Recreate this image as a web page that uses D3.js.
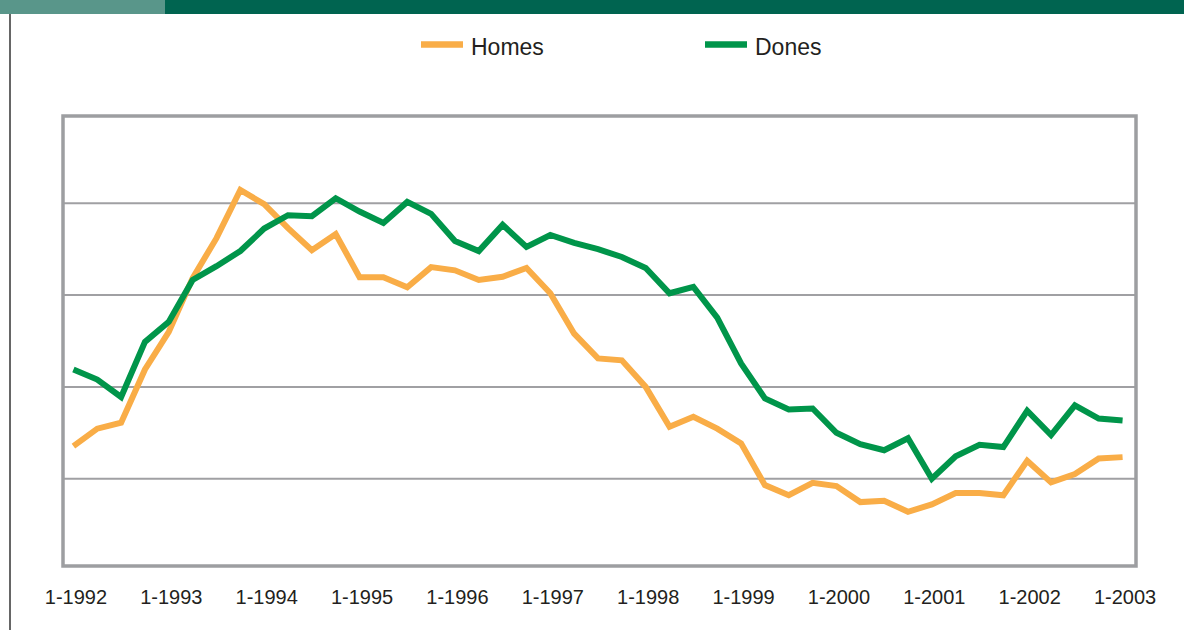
<!DOCTYPE html>
<html>
<head>
<meta charset="utf-8">
<script src="https://cdn.jsdelivr.net/npm/d3@7"></script>
<style>
  html, body { margin: 0; padding: 0; background: #fff; }
  svg { display: block; font-family: Arial, "Liberation Sans", sans-serif; }
</style>
</head>
<body>
<div id="chart"></div>
<script>
// quarterly categories (month-year)
const quarters = [
  "1-1992","4-1992","7-1992","10-1992",
  "1-1993","4-1993","7-1993","10-1993",
  "1-1994","4-1994","7-1994","10-1994",
  "1-1995","4-1995","7-1995","10-1995",
  "1-1996","4-1996","7-1996","10-1996",
  "1-1997","4-1997","7-1997","10-1997",
  "1-1998","4-1998","7-1998","10-1998",
  "1-1999","4-1999","7-1999","10-1999",
  "1-2000","4-2000","7-2000","10-2000",
  "1-2001","4-2001","7-2001","10-2001",
  "1-2002","4-2002","7-2002","10-2002",
  "1-2003"
];

const tickLabels = ["1-1992","1-1993","1-1994","1-1995","1-1996","1-1997",
  "1-1998","1-1999","1-2000","1-2001","1-2002","1-2003"];

const homes = [
  27.1, 30.9, 32.2, 43.8, 52.0, 63.7, 72.4, 82.9, 79.8, 74.6, 69.8, 73.3,
  63.9, 63.9, 61.7, 66.1, 65.4, 63.3, 64.0, 65.9, 60.4, 51.6, 46.2, 45.8,
  40.0, 31.3, 33.5, 30.9, 27.7, 18.6, 16.4, 19.1, 18.4, 14.9, 15.2, 12.8,
  14.4, 16.9, 16.9, 16.4, 23.9, 19.2, 21.0, 24.4, 24.7
];

const dones = [
  43.8, 41.6, 37.8, 49.8, 54.2, 63.3, 66.3, 69.6, 74.5, 77.4, 77.2, 81.1,
  78.2, 75.7, 80.3, 77.7, 71.8, 69.6, 75.3, 70.5, 73.1, 71.4, 70.0, 68.3,
  65.9, 60.4, 61.8, 55.1, 45.1, 37.5, 35.1, 35.3, 30.0, 27.5, 26.2, 28.8,
  20.0, 24.9, 27.4, 26.9, 34.8, 29.5, 36.0, 33.1, 32.7
];

const gridValues = [20, 40, 60, 80];

const seriesNames = ["Homes", "Dones"];
const seriesColors = ["#f9ad47", "#00954a"];

(function () {
  const svgWidth = 1184, svgHeight = 630;
  const margin = { top: 116, right: 48, bottom: 64, left: 63 };
  const width = svgWidth - margin.left - margin.right;   // 1073
  const height = svgHeight - margin.top - margin.bottom; // 450

  const svg = d3.select("#chart").append("svg")
    .attr("width", svgWidth)
    .attr("height", svgHeight);

  // top banner
  svg.append("rect").attr("x", 0).attr("y", 0)
    .attr("width", svgWidth).attr("height", 14).attr("fill", "#006450");
  svg.append("rect").attr("x", 0).attr("y", 0)
    .attr("width", 165).attr("height", 14).attr("fill", "#59968a");

  // left rule
  svg.append("line")
    .attr("x1", 10).attr("x2", 10).attr("y1", 14).attr("y2", svgHeight)
    .attr("stroke", "#333").attr("stroke-width", 1.5);

  const g = svg.append("g")
    .attr("transform", `translate(${margin.left},${margin.top})`);

  const x = d3.scalePoint()
    .domain(quarters)
    .range([-1.5, width - 1.5])
    .padding(0.5);

  // excel insets the value range a little inside the frame
  const y = d3.scaleLinear()
    .domain([0, 100])
    .range([height + 4.5, -4.5]);

  // gridlines
  g.selectAll(".grid")
    .data(gridValues)
    .enter().append("line")
    .attr("class", "grid")
    .attr("x1", 0).attr("x2", width)
    .attr("y1", d => y(d)).attr("y2", d => y(d))
    .attr("stroke", "#a0a0a3").attr("stroke-width", 2);

  // lines
  const line = d3.line()
    .x((d, i) => x(quarters[i]))
    .y(d => y(d));

  [homes, dones].forEach((vals, k) => {
    g.append("path")
      .datum(vals)
      .attr("d", line)
      .attr("fill", "none")
      .attr("stroke", seriesColors[k])
      .attr("stroke-width", 6)
      .attr("stroke-linejoin", "miter");
  });

  // frame
  g.append("rect")
    .attr("x", 0).attr("y", 0)
    .attr("width", width).attr("height", height)
    .attr("fill", "none")
    .attr("stroke", "#9d9ea1").attr("stroke-width", 3.5);

  // x axis labels
  const xAxis = d3.axisBottom(x)
    .tickValues(tickLabels)
    .tickSize(0)
    .tickPadding(0);

  const ax = g.append("g")
    .attr("transform", `translate(0,${height})`)
    .call(xAxis);
  ax.select(".domain").remove();
  ax.selectAll("text")
    .attr("dx", 2)
    .attr("y", 38)
    .attr("dy", 0)
    .attr("fill", "#231f20")
    .style("font-size", "20px")
    .style("font-family", "Arial, 'Liberation Sans', sans-serif");

  // legend
  const legendX = [421, 705];
  const legend = svg.selectAll(".legend")
    .data(seriesNames)
    .enter().append("g")
    .attr("class", "legend")
    .attr("transform", (d, i) => `translate(${legendX[i]},44.5)`);

  legend.append("line")
    .attr("x1", 0).attr("x2", 42)
    .attr("stroke", (d, i) => seriesColors[i])
    .attr("stroke-width", 6.5);

  legend.append("text")
    .attr("x", 50)
    .attr("y", 10)
    .attr("fill", "#231f20")
    .style("font-size", "23px")
    .text(d => d);
})();
</script>
</body>
</html>
